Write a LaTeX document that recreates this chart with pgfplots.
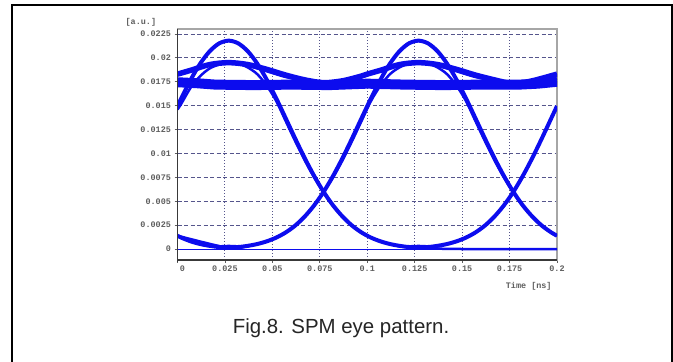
\documentclass[border=0pt]{standalone}
\usepackage{fontspec}
\setmainfont{Liberation Sans}
\setmonofont{Liberation Mono}
\usepackage{pgfplots}
\pgfplotsset{compat=1.18}
\definecolor{eye}{RGB}{12,12,238}
\definecolor{gridc}{RGB}{85,85,140}
\definecolor{tickc}{RGB}{95,95,95}
\begin{document}
\begin{tikzpicture}
\useasboundingbox (0,0) rectangle (673bp,362bp);
\fill[white] (0,0) rectangle (673bp,362bp);
\draw[black, line width=2bp] (11.5bp,-2bp) -- (11.5bp,356.5bp) -- (671.5bp,356.5bp) -- (671.5bp,-2bp);
\begin{axis}[
  at={(177.5bp,102bp)}, anchor=south west,
  scale only axis, width=379.5bp, height=231bp,
  xmin=0, xmax=0.2, ymin=-0.00115, ymax=0.02302,
  scaled ticks=false,
  xtick={0,0.025,0.05,0.075,0.1,0.125,0.15,0.175,0.2},
  xticklabels={\hspace*{10bp}0,0.025,0.05,0.075,0.1,0.125,0.15,0.175,0.2},
  ytick={0,0.0025,0.005,0.0075,0.01,0.0125,0.015,0.0175,0.02,0.0225},
  yticklabels={0,0.0025,0.005,0.0075,0.01,0.0125,0.015,0.0175,0.02,0.0225},
  xtick pos=left, ytick pos=left,
  tick align=outside, major tick length=3bp,
  tick style={tickc, line width=0.8bp},
  tick label style={font=\fontsize{8.5}{9}\selectfont\ttfamily\bfseries, text=tickc},
  xticklabel style={yshift=1bp},
  grid=major,
  x grid style={gridc, line width=0.9bp, dash pattern=on 1.2bp off 1.8bp},
  y grid style={gridc, line width=0.8bp, dash pattern=on 4bp off 2.5bp},
  axis line style={gray!70, line width=1.2bp},
  xlabel={Time [ns]}, ylabel={[a.u.]},
  label style={font=\fontsize{8.5}{9}\selectfont\ttfamily\bfseries, text=tickc},
  xlabel style={at={(axis description cs:0.995,-0.1156)}, anchor=east},
  ylabel style={rotate=-90, at={(axis description cs:-0.146,1.027)}, anchor=west},
  clip=true,
]
% zero level
\addplot[eye, line width=0.9bp] coordinates {(0,0) (0.2,0)};
% flat "1" level band
\addplot[eye, line width=10bp, line join=round] coordinates {
(0,0.01745) (0.01,0.01735) (0.02,0.0172) (0.04,0.01715) (0.06,0.0172) (0.08,0.01715)
(0.1,0.0173) (0.12,0.0172) (0.14,0.01715) (0.16,0.0172) (0.18,0.0172) (0.19,0.0173) (0.2,0.0175)};
% bump trace (111)
\addplot[eye, line width=5.5bp, smooth, line join=round] coordinates {
(0,0.0183) (0.007,0.0187) (0.017,0.0193) (0.027,0.0195) (0.037,0.0193) (0.047,0.0188)
(0.057,0.0182) (0.067,0.0177) (0.077,0.0174) (0.087,0.0176) (0.097,0.0181) (0.1,0.0183)
(0.107,0.0187) (0.117,0.0193) (0.127,0.0195) (0.137,0.0193) (0.147,0.0188) (0.157,0.0182)
(0.167,0.0177) (0.177,0.0173) (0.187,0.0176) (0.2,0.0183)};
% rising edge to bump, period 1
\addplot[eye, line width=2.5bp, smooth, line join=round] coordinates {
(0,0.0146) (0.002,0.0152) (0.007,0.0169) (0.012,0.0181) (0.017,0.0189) (0.022,0.0193)
(0.027,0.0195) (0.032,0.0194) (0.037,0.0192) (0.042,0.0189) (0.047,0.0186) (0.057,0.0180)
(0.067,0.0176) (0.077,0.0173) (0.087,0.0172) (0.1,0.0172) (0.15,0.0172) (0.177,0.0172) (0.2,0.0176)};
% rising edge to bump, period 2
\addplot[eye, line width=2.5bp, smooth, line join=round] coordinates {
(0,0.00139) (0.027,0.0001) (0.037,0.0003) (0.047,0.0008) (0.052,0.0012) (0.057,0.0017)
(0.062,0.0024) (0.067,0.0034) (0.072,0.0046) (0.077,0.0060) (0.082,0.0075) (0.087,0.0093)
(0.092,0.0113) (0.097,0.0134) (0.102,0.0155) (0.107,0.0171) (0.112,0.0183) (0.117,0.0190)
(0.122,0.0194) (0.127,0.0195) (0.132,0.0194) (0.137,0.0192) (0.142,0.0189) (0.147,0.0186)
(0.157,0.0180) (0.167,0.0176) (0.177,0.0173) (0.187,0.0174) (0.2,0.0178)};
% bump then falling edge, period 1
\addplot[eye, line width=2.5bp, smooth, line join=round] coordinates {
(0,0.0183) (0.007,0.0187) (0.017,0.0193) (0.027,0.0195) (0.032,0.0194) (0.037,0.0190)
(0.042,0.0183) (0.047,0.0171) (0.052,0.0155) (0.057,0.0134) (0.062,0.0113) (0.067,0.0093)
(0.072,0.0075) (0.077,0.0059) (0.082,0.0045) (0.087,0.0034) (0.092,0.0024) (0.097,0.0017)
(0.102,0.0012) (0.107,0.0008) (0.117,0.0003) (0.127,0.0001) (0.15,0) (0.2,0)};
% bump then falling edge, period 2
\addplot[eye, line width=2.5bp, smooth, line join=round] coordinates {
(0,0.0174) (0.05,0.0172) (0.077,0.0173) (0.087,0.0176) (0.097,0.0181) (0.1,0.0183)
(0.107,0.0187) (0.117,0.0193) (0.127,0.0195) (0.132,0.0194) (0.137,0.0190) (0.142,0.0183)
(0.147,0.0171) (0.152,0.0155) (0.157,0.0134) (0.162,0.0113) (0.167,0.0093) (0.172,0.0075)
(0.177,0.0059) (0.182,0.0045) (0.187,0.0034) (0.192,0.0024) (0.197,0.0017) (0.2,0.0014)};
% isolated pulse, period 1 (+ rising edge of next)
\addplot[eye, line width=4bp, smooth, line join=round] coordinates {
(0,0.01496) (0.002,0.01578) (0.007,0.01773) (0.012,0.01941) (0.017,0.02070) (0.022,0.02152)
(0.027,0.0218) (0.032,0.02152) (0.037,0.02070) (0.042,0.01941) (0.047,0.01773) (0.052,0.01578)
(0.057,0.01369) (0.062,0.01157) (0.067,0.00953) (0.072,0.00765) (0.077,0.00598) (0.082,0.00456)
(0.087,0.00339) (0.092,0.00245) (0.097,0.00173) (0.102,0.00119) (0.107,0.00080) (0.112,0.00052)
(0.117,0.00033) (0.122,0.00021) (0.127,0.00024) (0.132,0.00021) (0.137,0.00033) (0.142,0.00052)
(0.147,0.0008) (0.152,0.00119) (0.157,0.00173) (0.162,0.00245) (0.167,0.00339) (0.172,0.00456)
(0.177,0.00598) (0.182,0.00765) (0.187,0.00953) (0.192,0.01157) (0.197,0.01369) (0.2,0.01496)};
% isolated pulse, period 2 (+ tail of previous)
\addplot[eye, line width=4bp, smooth, line join=round] coordinates {
(0,0.00139) (0.002,0.00119) (0.007,0.0008) (0.012,0.00052) (0.017,0.00033) (0.022,0.00021)
(0.027,0.00024) (0.032,0.00021) (0.037,0.00033) (0.042,0.00052) (0.047,0.0008) (0.052,0.00119)
(0.057,0.00173) (0.062,0.00245) (0.067,0.00339) (0.072,0.00456) (0.077,0.00598) (0.082,0.00765)
(0.087,0.00953) (0.092,0.01157) (0.097,0.01369) (0.102,0.01578) (0.107,0.01773) (0.112,0.01941)
(0.117,0.0207) (0.122,0.02152) (0.127,0.0218) (0.132,0.02152) (0.137,0.0207) (0.142,0.01941)
(0.147,0.01773) (0.152,0.01578) (0.157,0.01369) (0.162,0.01157) (0.167,0.00953) (0.172,0.00765)
(0.177,0.00598) (0.182,0.00456) (0.187,0.00339) (0.192,0.00245) (0.197,0.00173) (0.2,0.00139)};
\end{axis}
\draw[gray!45!black, line width=1.6bp] (177.5bp,333bp) -- (177.5bp,100bp);
\draw[gray!45!black, line width=1.6bp] (177.5bp,102bp) -- (557bp,102bp);
\node[anchor=base, font=\fontsize{20.5}{24}\selectfont, text=black!85] at (341bp,29bp) {Fig.8. SPM eye pattern.};
\end{tikzpicture}
\end{document}
